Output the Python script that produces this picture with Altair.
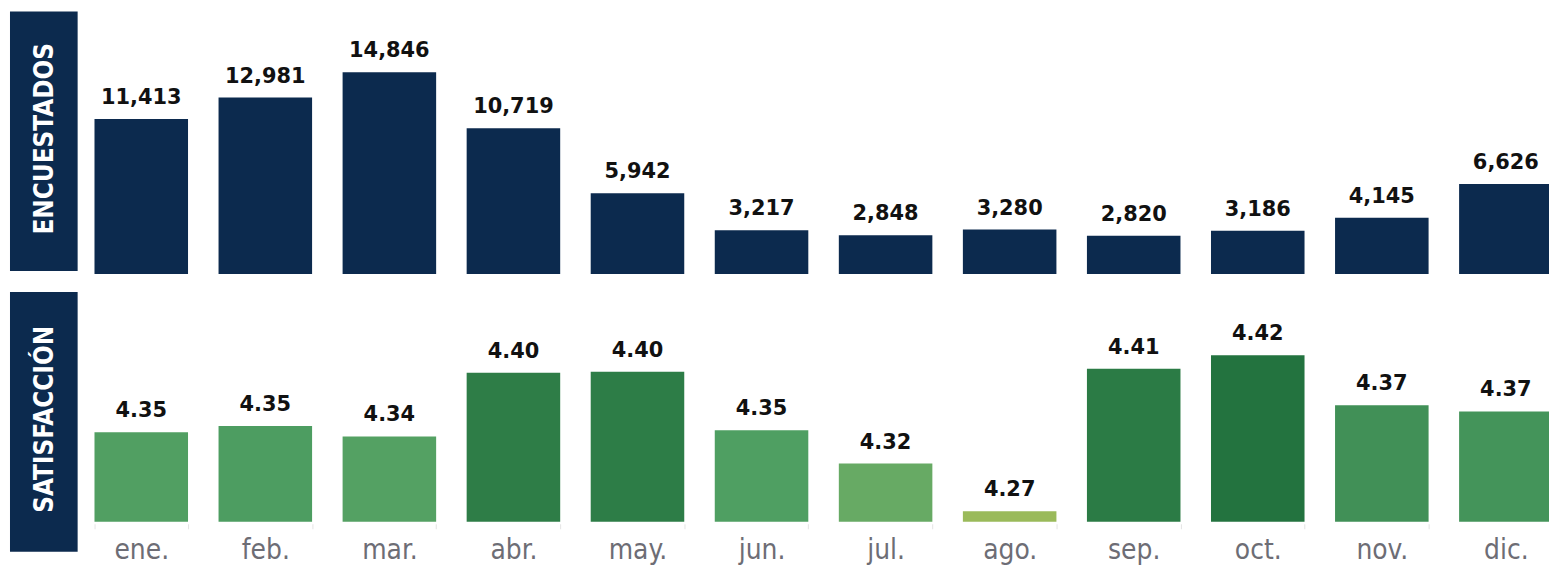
import altair as alt
import pandas as pd

months = ["ene.", "feb.", "mar.", "abr.", "may.", "jun.", "jul.", "ago.", "sep.", "oct.", "nov.", "dic."]
encuestados = [11413, 12981, 14846, 10719, 5942, 3217, 2848, 3280, 2820, 3186, 4145, 6626]
satisfaccion = [4.346, 4.352, 4.342, 4.403, 4.404, 4.348, 4.316, 4.270, 4.407, 4.420, 4.372, 4.366]
panel_titles = ["ENCUESTADOS", "SATISFACCIÓN"]

NAVY = "#0c2a4e"
NARROW = "Liberation Sans Narrow, DejaVu Sans Condensed, Roboto Condensed, DejaVu Sans, sans-serif"
BOLD = "DejaVu Sans"

df = pd.DataFrame({"mes": months, "enc": encuestados, "sat": satisfaccion})

x = alt.X(
    "mes:N",
    sort=months,
    scale=alt.Scale(range=[71.6, 1568], paddingInner=0.246, paddingOuter=0.123),
    axis=alt.Axis(
        title=None, labelAngle=0, domain=False, grid=False,
        ticks=True, tickBand="extent", tickColor="#e4e4e4", tickSize=5,
        labelFont=NARROW, labelFontSize=28, labelColor="#6d6d75", labelPadding=8,
    ),
)

y_top = alt.Y("enc:Q", scale=alt.Scale(domain=[0, 15000], range=[266, 61]), axis=None)
y_bot = alt.Y("sat:Q", scale=alt.Scale(domain=[4.26, 4.42], range=[515, 347.5], zero=False, clamp=True), axis=None)

base = alt.Chart(df)

top_bars = base.mark_bar(color=NAVY).encode(x=x, y=y_top, y2=alt.datum(0))
top_text = base.mark_text(baseline="alphabetic", dy=-15, font=BOLD, fontWeight="bold", fontSize=21, color="#111111").encode(
    x=x, y=y_top, text=alt.Text("enc:Q", format=",")
)

bot_bars = base.mark_bar().encode(
    x=x, y=y_bot, y2=alt.datum(4.26),
    color=alt.Color("sat:Q", scale=alt.Scale(domain=[4.27, 4.32, 4.35, 4.42],
                                             range=["#9aba5a", "#63a865", "#4e9e62", "#23733f"]), legend=None),
)
bot_text = base.mark_text(baseline="alphabetic", dy=-15, font=BOLD, fontWeight="bold", fontSize=21, color="#111111").encode(
    x=x, y=y_bot, text=alt.Text("sat:Q", format=".2f")
)

t1 = alt.Chart(pd.DataFrame({"t": [panel_titles[0]]}))
t2 = alt.Chart(pd.DataFrame({"t": [panel_titles[1]]}))

box1 = t1.mark_rect(color=NAVY).encode(x=alt.value(2), x2=alt.value(70), y=alt.value(2), y2=alt.value(263))
lab1 = t1.mark_text(angle=270, color="white", font=NARROW, fontWeight="bold", fontSize=26, align="center", baseline="middle").encode(
    x=alt.value(37), y=alt.value(130), text="t:N")
box2 = t2.mark_rect(color=NAVY).encode(x=alt.value(2), x2=alt.value(70), y=alt.value(284), y2=alt.value(545))
lab2 = t2.mark_text(angle=270, color="white", font=NARROW, fontWeight="bold", fontSize=26, align="center", baseline="middle").encode(
    x=alt.value(37), y=alt.value(412), text="t:N")

chart = alt.layer(
    top_bars, top_text, bot_bars, bot_text, box1, lab1, box2, lab2
).resolve_scale(y="independent").properties(
    width=1549, height=517,
    background="white",
    autosize=alt.AutoSizeParams(type="none"),
    padding={"left": 0, "top": 0, "right": 0, "bottom": 44},
).configure_view(stroke=None)

chart.save("out.html", embed_options={"renderer": "svg", "actions": False})
